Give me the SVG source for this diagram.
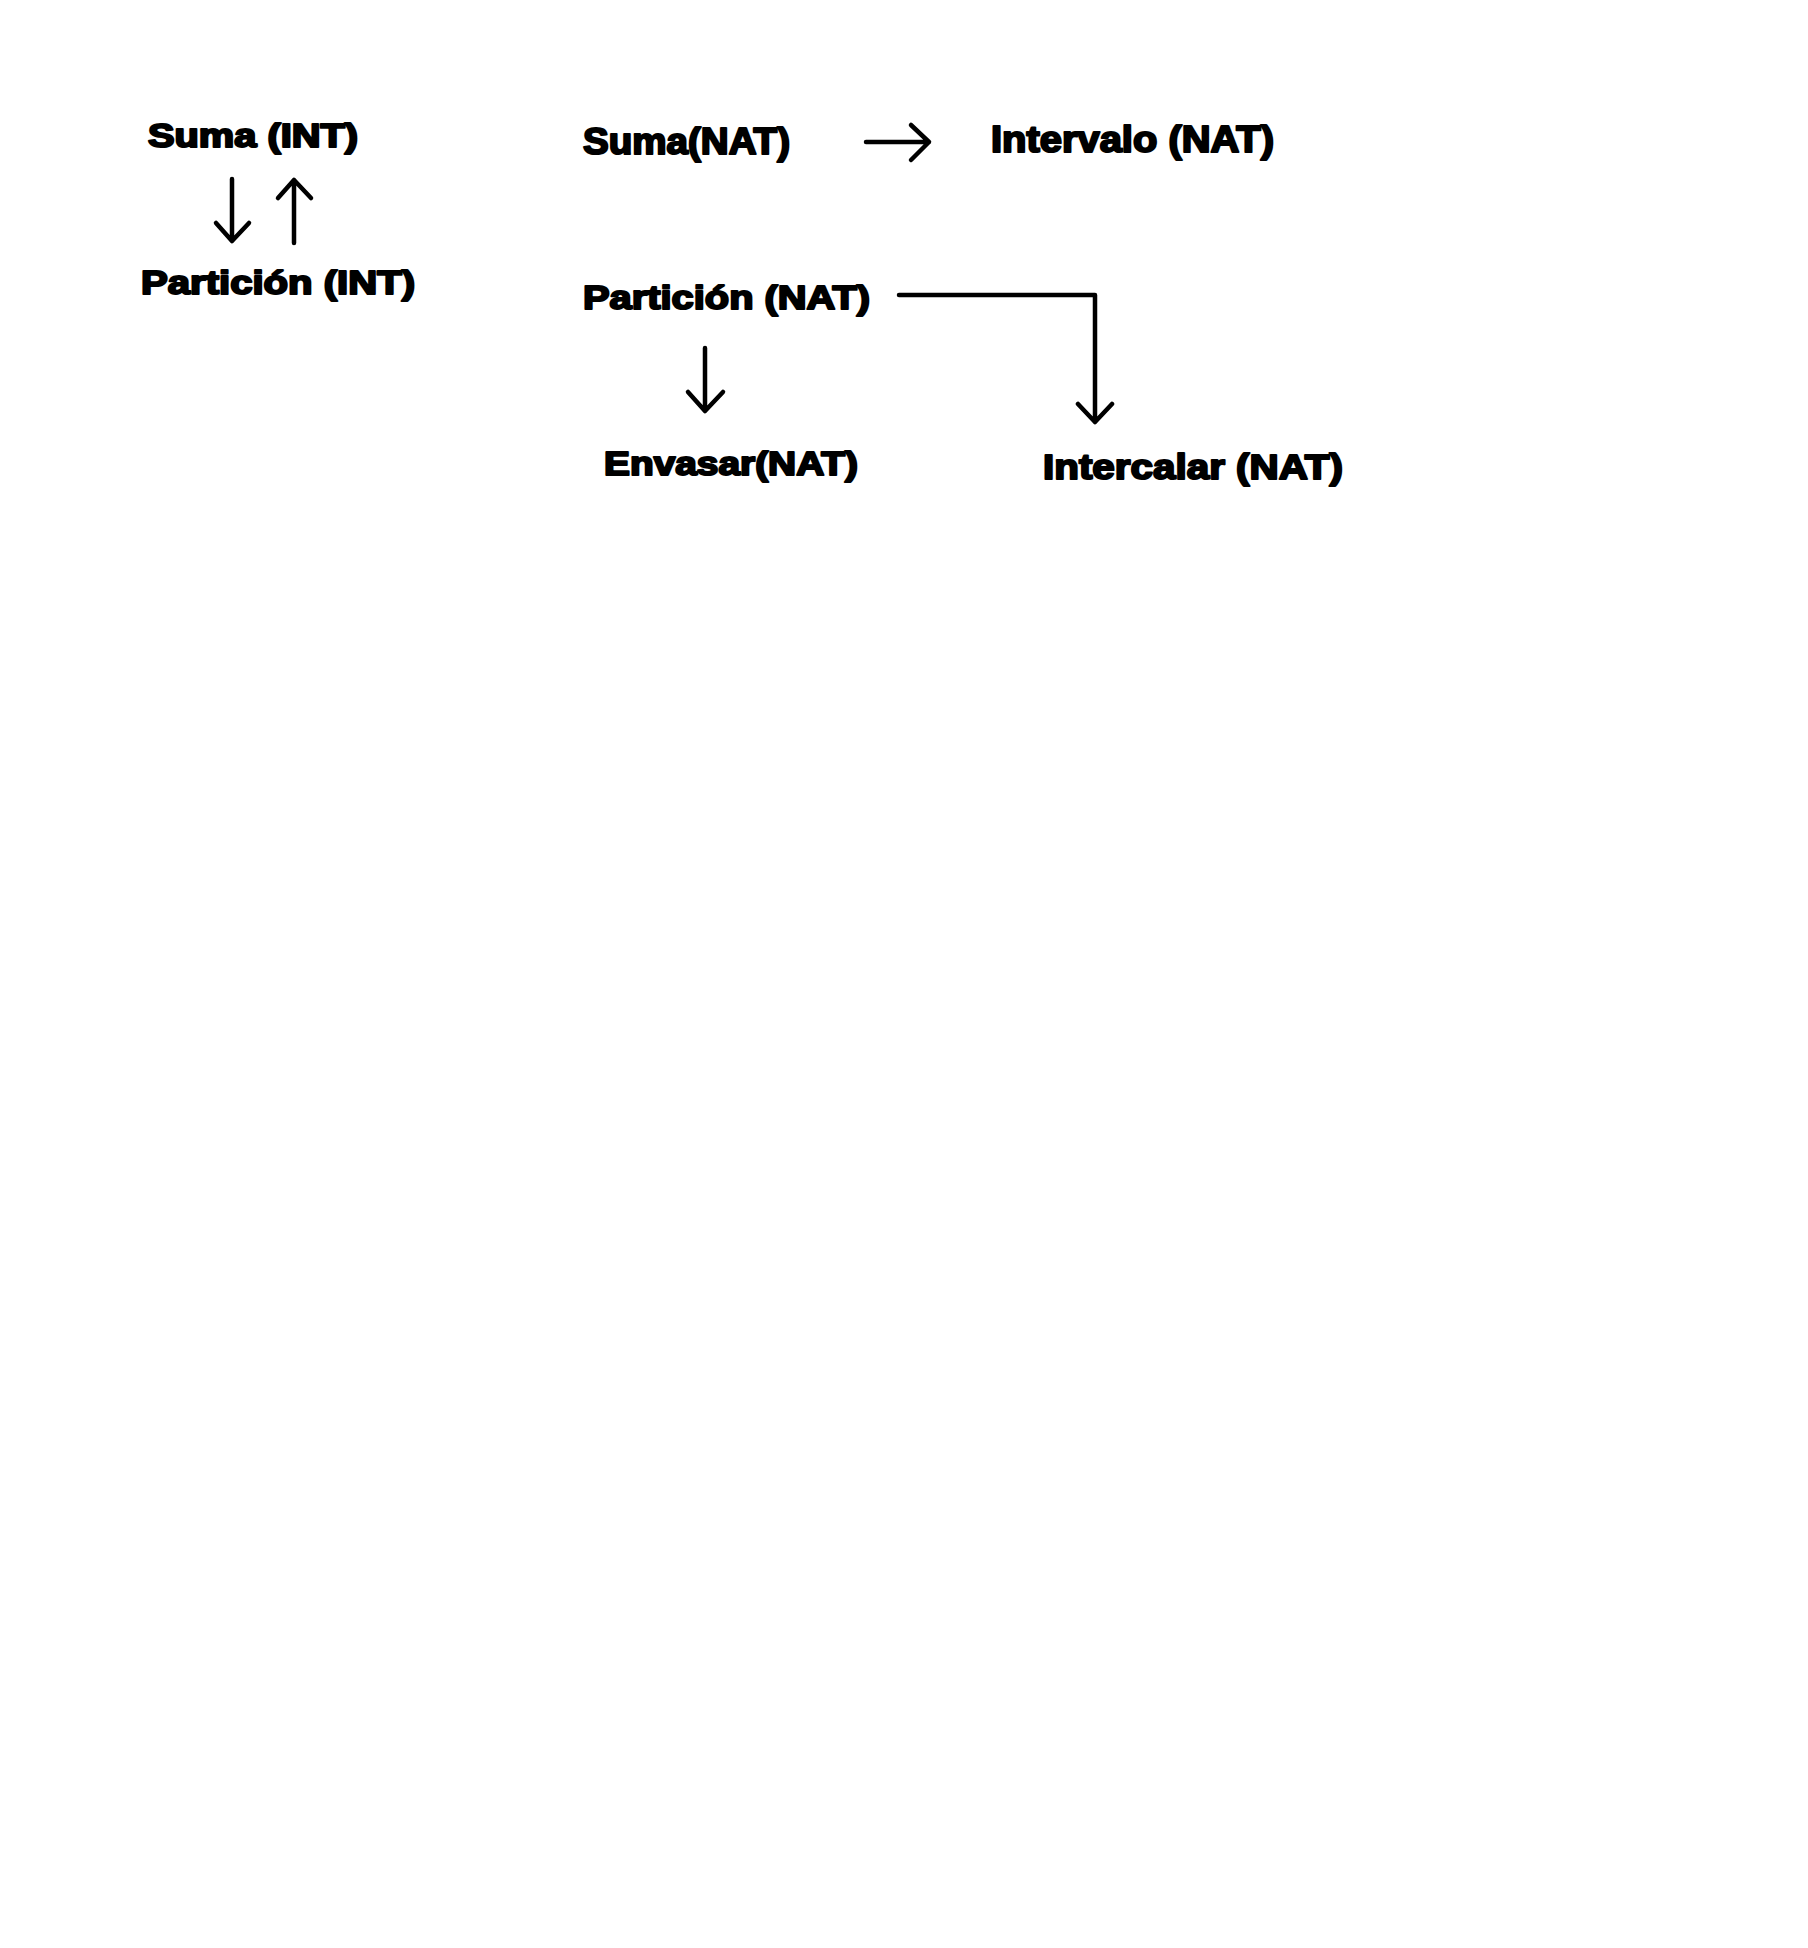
<svg xmlns="http://www.w3.org/2000/svg" width="1808" height="1948" viewBox="0 0 1808 1948">
  <style>
    .lbl { font-family: "Liberation Sans", Arial, sans-serif; font-weight: 700; fill: #000; stroke: #000; stroke-width: 2.1; stroke-linejoin: round; }
    .wire { fill: none; stroke: #000; stroke-width: 4.5; stroke-linecap: round; stroke-linejoin: round; }
  </style>
  <rect width="1808" height="1948" fill="#fff"/>

  <g id="suma-int"><text class="lbl" x="148" y="147" font-size="32.5" textLength="210" lengthAdjust="spacingAndGlyphs">Suma (INT)</text></g>
  <g id="particion-int"><text class="lbl" x="141" y="294" font-size="33" textLength="274" lengthAdjust="spacingAndGlyphs">Partición (INT)</text></g>
  <g id="suma-nat"><text class="lbl" x="583" y="154" font-size="36" textLength="207" lengthAdjust="spacingAndGlyphs">Suma(NAT)</text></g>
  <g id="intervalo-nat"><text class="lbl" x="991" y="152" font-size="36" textLength="283" lengthAdjust="spacingAndGlyphs">Intervalo (NAT)</text></g>
  <g id="particion-nat"><text class="lbl" x="583" y="309" font-size="34" textLength="287" lengthAdjust="spacingAndGlyphs">Partición (NAT)</text></g>
  <g id="envasar-nat"><text class="lbl" x="604" y="475" font-size="33" textLength="254" lengthAdjust="spacingAndGlyphs">Envasar(NAT)</text></g>
  <g id="intercalar-nat"><text class="lbl" x="1043" y="479" font-size="35.5" textLength="300" lengthAdjust="spacingAndGlyphs">Intercalar (NAT)</text></g>

  <g id="connectors">
    <!-- Suma (INT) -> Partición (INT) -->
    <path class="wire" d="M232 179 V241 M216 223 L232 241 L249 223"/>
    <!-- Partición (INT) -> Suma (INT) -->
    <path class="wire" d="M294 243 V180 M278 198 L294 180 L311 198"/>
    <!-- Suma(NAT) -> Intervalo (NAT) -->
    <path class="wire" d="M866 142 H929 M911 125 L929 142 L911 160"/>
    <!-- Partición (NAT) -> Intercalar (NAT) -->
    <path class="wire" d="M899 295 H1095 V422 M1078 404 L1095 422 L1112 404"/>
    <!-- Partición (NAT) -> Envasar(NAT) -->
    <path class="wire" d="M705 348 V411 M688 392 L705 411 L723 392"/>
  </g>
</svg>
